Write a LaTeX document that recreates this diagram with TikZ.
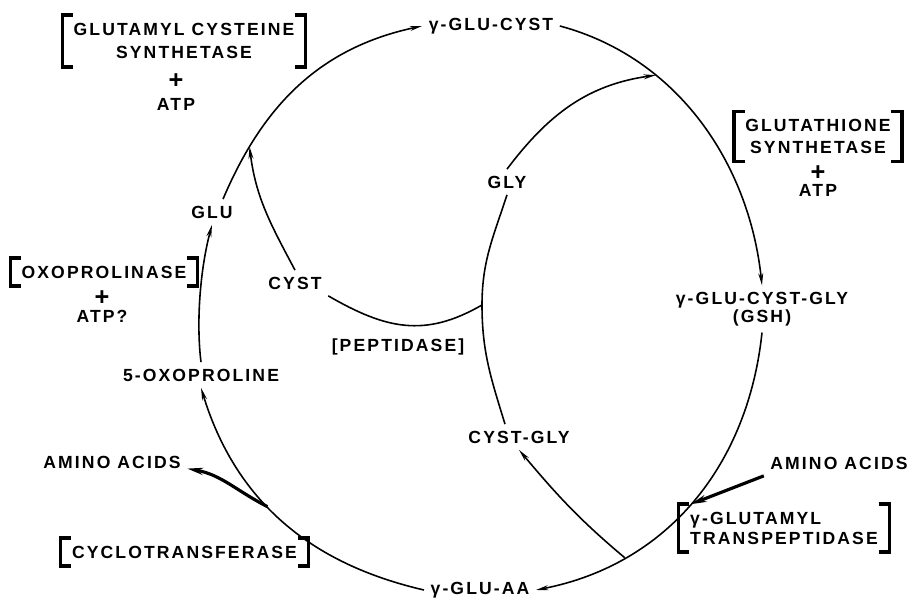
\documentclass[tikz,border=0pt]{standalone}
\usepackage{fontspec}
\setmainfont{Liberation Sans}[LetterSpace=12]
\usetikzlibrary{arrows.meta}

\tikzset{
  enz/.style={align=center, inner xsep=6pt, inner ysep=4pt},
  brk/.style={line width=1.8pt},
  aaflow/.style={line width=1.8pt, -{Stealth[length=9pt,width=4pt]}},
}
\newcommand{\enzbrk}[1]{%
  \draw[brk] ([xshift=6pt]#1.north west) -- (#1.north west) -- (#1.south west) -- ++(6pt,0);
  \draw[brk] ([xshift=-6pt]#1.north east) -- (#1.north east) -- (#1.south east) -- ++(-6pt,0);}

\begin{document}
\begin{tikzpicture}[font=\bfseries, line width=0.9pt, >={Stealth[length=7pt,width=2.8pt]}]
  \useasboundingbox (0,0) rectangle (18.2,12.06);

  %% Metabolites
  \node (gcyst)   at (9.82,11.54) {γ-GLU-CYST};
  \node[align=center] (gsh) at (15.24,5.88) {γ-GLU-CYST-GLY\\[-1.8pt](GSH)};
  \node (gaa)     at (9.60,0.26)  {γ-GLU-AA};
  \node (oxo)     at (4.02,4.56)  {5-OXOPROLINE};
  \node (glu)     at (4.24,7.82)  {GLU};
  \node (gly)     at (10.14,8.42) {GLY};
  \node (cystgly) at (10.38,3.32) {CYST-GLY};
  \node (cyst)    at (5.90,6.40)  {CYST};
  \node (pept)    at (7.96,5.12)  {[PEPTIDASE]};
  \node (aal)     at (2.24,2.82)  {AMINO ACIDS};
  \node (aar)     at (16.78,2.80) {AMINO ACIDS};

  %% Enzymes (bracketed) and cofactors
  \node[enz] (gcs) at (3.68,11.24) {GLUTAMYL CYSTEINE\\[1.6pt]SYNTHETASE};
  \node[align=center] (gcsatp) at (3.52,10.22) {{\Large +}\\[0.4pt]ATP};
  \node[enz] (gts) at (16.36,9.33) {GLUTATHIONE\\[0.5pt]SYNTHETASE};
  \node[align=center] (gtsatp) at (16.36,8.44) {{\Large +}\\[-2.6pt]ATP};
  \node[enz] (oxl) at (2.08,6.62) {OXOPROLINASE};
  \node[align=center] (oxlatp) at (2.04,5.93) {{\Large +}\\[-2pt]ATP?};
  \node[enz] (ctr) at (3.69,1.02) {CYCLOTRANSFERASE};
  \node[enz,align=left] (ggt) at (15.68,1.50) {γ-GLUTAMYL\\[-0.6pt]TRANSPEPTIDASE};
  \foreach \n in {gcs,gts,oxl,ctr,ggt} {\enzbrk{\n}}

  %% Outer cycle (junctions sit on it)
  \draw[->] ([xshift=0.22cm]glu.north) to[out=67,in=192]
    coordinate[pos=0.2] (jcys) (gcyst.west);
  \draw[->] (gcyst.east) to[out=-15,in=96,looseness=0.95]
    coordinate[pos=0.31] (jgly) (gsh.north);
  \draw[->] (gsh.south) to[out=-96,in=11]
    coordinate[pos=0.51] (jaar) coordinate[pos=0.75] (jcg) (gaa.east);
  \draw[->] (gaa.west) to[out=167,in=-73]
    coordinate[pos=0.57] (jaal) (oxo.south);
  \draw[->] (oxo.north) to[out=97,in=255,looseness=0.8] (glu.south);

  %% Inner loop
  \coordinate (jpep) at (9.64,5.96);
  \draw[->] (gly.north) to[out=53,in=188] (jgly);
  \draw ([xshift=-0.28cm]cystgly.north) to[out=107,in=-90] (jpep)
    to[out=90,in=-108] (gly.south);
  \draw[->] (jcg) to[out=140,in=-50] (cystgly.south);
  \draw (jpep) to[out=-150,in=-30,looseness=1.1] (cyst.south east);
  \draw[->] (cyst.north) to[out=118,in=-83] (jcys);

  %% Amino acids in and out
  \draw[aaflow] (jaal) to[out=153,in=-10] (aal.-5);
  \draw[aaflow] (aar.south west) -- (jaar);
\end{tikzpicture}
\end{document}
